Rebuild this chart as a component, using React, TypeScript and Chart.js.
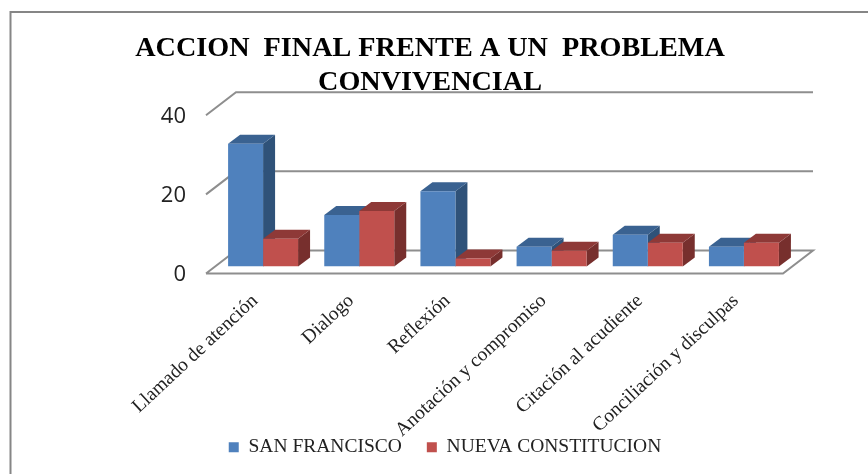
import React, { useEffect, useRef } from "react";
import { Chart, registerables } from "chart.js";

Chart.register(...registerables);

const categories = [
  "Llamado de atención",
  "Dialogo",
  "Reflexión",
  "Anotación y compromiso",
  "Citación al acudiente",
  "Conciliación y disculpas",
];
const sanFrancisco = [31, 13, 19, 5, 8, 5];
const nuevaConstitucion = [7, 14, 2, 4, 6, 6];
const yTicks = [0, 20, 40];
const titleLines = ["ACCION  FINAL FRENTE A UN  PROBLEMA", "CONVIVENCIAL"];

const DEPTH_X = 12;
const DEPTH_Y = -9;
const faces = [
  { top: "#3A6291", side: "#2F5279" },
  { top: "#8E3937", side: "#772F2D" },
];

const scene3d = {
  id: "scene3d",
  afterLayout(chart: any) {
    // rotated tick labels run down past the legend's top edge, as in the reference
    chart.scales.x.bottom = chart.height;
    const legend = chart.legend;
    legend.left += 15;
    legend.right += 15;
    legend.top -= 7;
    legend.bottom -= 7;
  },
  beforeDraw(chart: any) {
    const { ctx } = chart;
    ctx.save();
    ctx.fillStyle = "#ffffff";
    ctx.fillRect(0, 0, chart.width, chart.height);
    ctx.strokeStyle = "#868686";
    ctx.lineWidth = 2;
    ctx.beginPath();
    ctx.moveTo(10.5, chart.height);
    ctx.lineTo(10.5, 12);
    ctx.lineTo(chart.width, 12);
    ctx.stroke();
    ctx.restore();
  },
  beforeDatasetsDraw(chart: any) {
    const { ctx, chartArea } = chart;
    const yScale = chart.scales.y;
    const { left, right } = chartArea;
    const backL = left + 21;
    const backR = right + 21;
    const frontL = left - 9;
    const frontR = right - 9;
    ctx.save();
    ctx.strokeStyle = "#8E8E8E";
    ctx.lineWidth = 2;
    yTicks.forEach((v) => {
      const y = yScale.getPixelForValue(v);
      ctx.beginPath();
      ctx.moveTo(frontL, y + 7);
      ctx.lineTo(backL, y - 16);
      ctx.lineTo(backR, y - 16);
      if (v === 0) {
        ctx.lineTo(frontR, y + 7);
        ctx.lineTo(frontL, y + 7);
      }
      ctx.stroke();
    });
    categories.forEach((_, i) => {
      [0, 1].forEach((d) => {
        const bar = chart.getDatasetMeta(d).data[i] as any;
        const props = bar.getProps(["x", "y", "base", "width"], true);
        const l = props.x - props.width / 2;
        const r = props.x + props.width / 2;
        const t = props.y;
        const b = props.base;
        ctx.fillStyle = faces[d].side;
        ctx.beginPath();
        ctx.moveTo(r, t);
        ctx.lineTo(r + DEPTH_X, t + DEPTH_Y);
        ctx.lineTo(r + DEPTH_X, b + DEPTH_Y);
        ctx.lineTo(r, b);
        ctx.closePath();
        ctx.fill();
        ctx.fillStyle = faces[d].top;
        ctx.beginPath();
        ctx.moveTo(l, t);
        ctx.lineTo(l + DEPTH_X, t + DEPTH_Y);
        ctx.lineTo(r + DEPTH_X, t + DEPTH_Y);
        ctx.lineTo(r, t);
        ctx.closePath();
        ctx.fill();
      });
    });
    ctx.restore();
  },
};

export default function App() {
  const ref = useRef<HTMLCanvasElement>(null);
  useEffect(() => {
    const chart = new Chart(ref.current as HTMLCanvasElement, {
      type: "bar",
      data: {
        labels: categories,
        datasets: [
          { label: "SAN FRANCISCO", data: sanFrancisco, backgroundColor: "#4F81BD" },
          { label: "NUEVA CONSTITUCION", data: nuevaConstitucion, backgroundColor: "#C0504D" },
        ],
      },
      plugins: [scene3d],
      options: {
        responsive: false,
        animation: false,
        layout: { padding: { left: 0, right: 8, top: 0, bottom: 0 } },
        datasets: { bar: { categoryPercentage: 0.7277, barPercentage: 1 } },
        plugins: {
          title: {
            display: true,
            text: titleLines,
            color: "#000000",
            font: { family: "'Liberation Serif'", size: 28.2, weight: "bold", lineHeight: 1.21 },
            padding: { top: 32, bottom: 8 },
          },
          legend: {
            position: "bottom",
            labels: {
              boxWidth: 10,
              boxHeight: 10,
              padding: 25,
              color: "#222222",
              font: { family: "'Liberation Serif'", size: 19.5 },
            },
          },
          tooltip: { enabled: false },
        },
        scales: {
          x: {
            grid: { display: false },
            border: { display: false },
            ticks: {
              autoSkip: false,
              maxRotation: 43,
              minRotation: 43,
              padding: 15,
              labelOffset: -8,
              color: "#222222",
              font: { family: "'Liberation Serif'", size: 19.5 },
            },
            afterFit(s: any) {
              s.height = 153;
            },
          },
          y: {
            min: 0,
            max: 40,
            grid: { display: false },
            border: { display: false },
            afterBuildTicks(s: any) {
              s.ticks = yTicks.map((value) => ({ value }));
            },
            ticks: {
              padding: 21,
              labelOffset: 8,
              color: "#222222",
              font: { family: "'Open Sans'", size: 22 },
            },
            afterFit(s: any) {
              s.width = 215;
            },
          },
          y2: {
            position: "right",
            grid: { display: false },
            border: { display: false },
            ticks: { display: false },
            afterFit(s: any) {
              s.width = 68;
            },
          },
        },
      } as any,
    });
    return () => chart.destroy();
  }, []);
  return (
    <canvas
      ref={ref}
      width={868}
      height={474}
      style={{ position: "absolute", left: 0, top: 0, display: "block" }}
    />
  );
}
